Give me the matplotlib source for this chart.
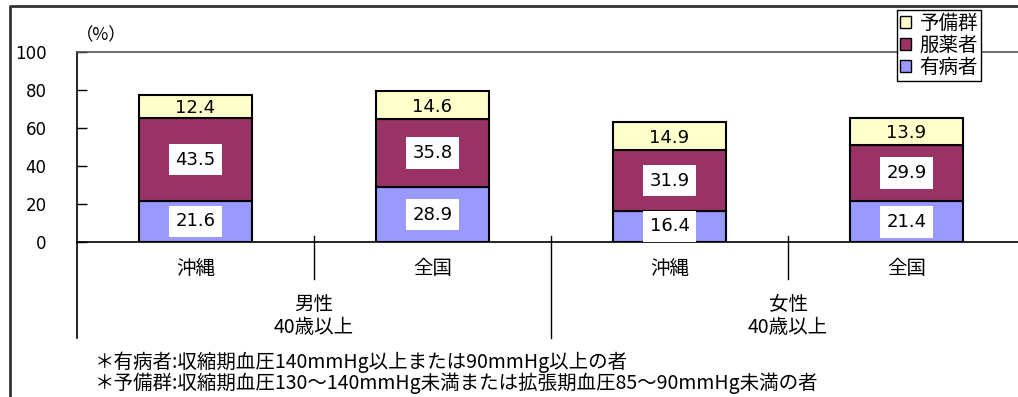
import matplotlib
matplotlib.use("Agg")
import matplotlib.pyplot as plt
from matplotlib.patches import Patch
from matplotlib.lines import Line2D
import matplotlib.transforms as mtransforms

plt.rcParams['font.family'] = ['Noto Sans CJK JP', 'DejaVu Sans']
NUM_FONT = ['DejaVu Sans']

# Data
regions = ["沖縄", "全国", "沖縄", "全国"]
groups = ["男性\n40歳以上", "女性\n40歳以上"]
patients = [21.6, 28.9, 16.4, 21.4]      # 有病者
medicated = [43.5, 35.8, 31.9, 29.9]     # 服薬者
reserve = [12.4, 14.6, 14.9, 13.9]       # 予備群
yticks = [0, 20, 40, 60, 80, 100]
footnotes = [
    "＊有病者:収縮期血圧140mmHg以上または90mmHg以上の者",
    "＊予備群:収縮期血圧130～140mmHg未満または拡張期血圧85～90mmHg未満の者",
]

W, H = 1018, 397
fig = plt.figure(figsize=(W / 100, H / 100), dpi=100)

def fx(px):
    return px / W

def fy(py):
    return 1 - py / H

ax = fig.add_axes([fx(77), fy(242), fx(948), (242 - 52) / H])
ax.set_xlim(0, len(regions))
ax.set_ylim(0, 100)

c_pat, c_med, c_res = "#9999FF", "#993366", "#FFFFCC"
xs = [i + 0.5 for i in range(len(regions))]
bw = 0.48
ax.bar(xs, patients, bw, color=c_pat, edgecolor="black", linewidth=1.5)
ax.bar(xs, medicated, bw, bottom=patients, color=c_med, edgecolor="black", linewidth=1.5)
bottoms3 = [p + m for p, m in zip(patients, medicated)]
ax.bar(xs, reserve, bw, bottom=bottoms3, color=c_res, edgecolor="black", linewidth=1.5)

boxed = dict(boxstyle="square,pad=0.38", facecolor="white", edgecolor="none")
for x, p, m, r in zip(xs, patients, medicated, reserve):
    ax.text(x, p / 2, f"{p:.1f}", ha="center", va="center", fontsize=13,
            family=NUM_FONT, bbox=boxed)
    ax.text(x, p + m / 2, f"{m:.1f}", ha="center", va="center", fontsize=13,
            family=NUM_FONT, bbox=boxed)
    ax.text(x, p + m + r / 2 - 1, f"{r:.1f}", ha="center", va="center", fontsize=13,
            family=NUM_FONT)

ax.set_yticks(yticks)
ax.set_yticklabels([str(v) for v in yticks], fontsize=12, family=NUM_FONT)
ax.tick_params(axis="y", direction="in", length=7, width=1, pad=22)
ax.set_xticks([])
ax.spines["right"].set_visible(False)
ax.spines["top"].set_color("#555555")
ax.spines["top"].set_linewidth(1.2)
ax.spines["left"].set_linewidth(1.2)
ax.spines["bottom"].set_linewidth(1.2)

# Category dividers below the axis
trans = mtransforms.blended_transform_factory(ax.transData, ax.transAxes)
for xd in [1, 3]:
    ax.add_line(Line2D([xd, xd], [0.03, -0.195], transform=trans, color="black",
                       linewidth=1, clip_on=False))
ax.add_line(Line2D([2, 2], [0.03, -0.505], transform=trans, color="black",
                   linewidth=1, clip_on=False))
ax.add_line(Line2D([0, 0], [0, -0.505], transform=trans, color="black",
                   linewidth=1.2, clip_on=False))

for x, lab in zip(xs, regions):
    ax.text(x, -0.14, lab, transform=trans, ha="center", va="center", fontsize=14)
for gi, lab in enumerate(groups):
    ax.text(1 + 2 * gi, -0.39, lab, transform=trans, ha="center", va="center",
            fontsize=14, linespacing=1.15)

fig.text(fx(76), fy(35), "（%）", ha="left", va="center", fontsize=12.5)

for i, t in enumerate(footnotes):
    fig.text(fx(95), fy(362 + 21 * i), t, ha="left", va="center", fontsize=14)

# Outer frame (left and top edges)
fig.add_artist(Line2D([fx(10), fx(10), 1.0], [0.0, fy(6), fy(6)], transform=fig.transFigure,
                      color="#333333", linewidth=2))

handles = [Patch(facecolor=c_res, edgecolor="black"),
           Patch(facecolor=c_med, edgecolor="black"),
           Patch(facecolor=c_pat, edgecolor="black")]
leg = fig.legend(handles, ["予備群", "服薬者", "有病者"], loc="upper right",
                 bbox_to_anchor=(fx(981), fy(10)), fontsize=14, frameon=True,
                 fancybox=False, edgecolor="black", framealpha=1,
                 handlelength=0.55, handleheight=0.55, handletextpad=0.45,
                 labelspacing=0.05, borderpad=0.15, borderaxespad=0)
leg.get_frame().set_linewidth(1)

fig.savefig("out.png", dpi=100)
